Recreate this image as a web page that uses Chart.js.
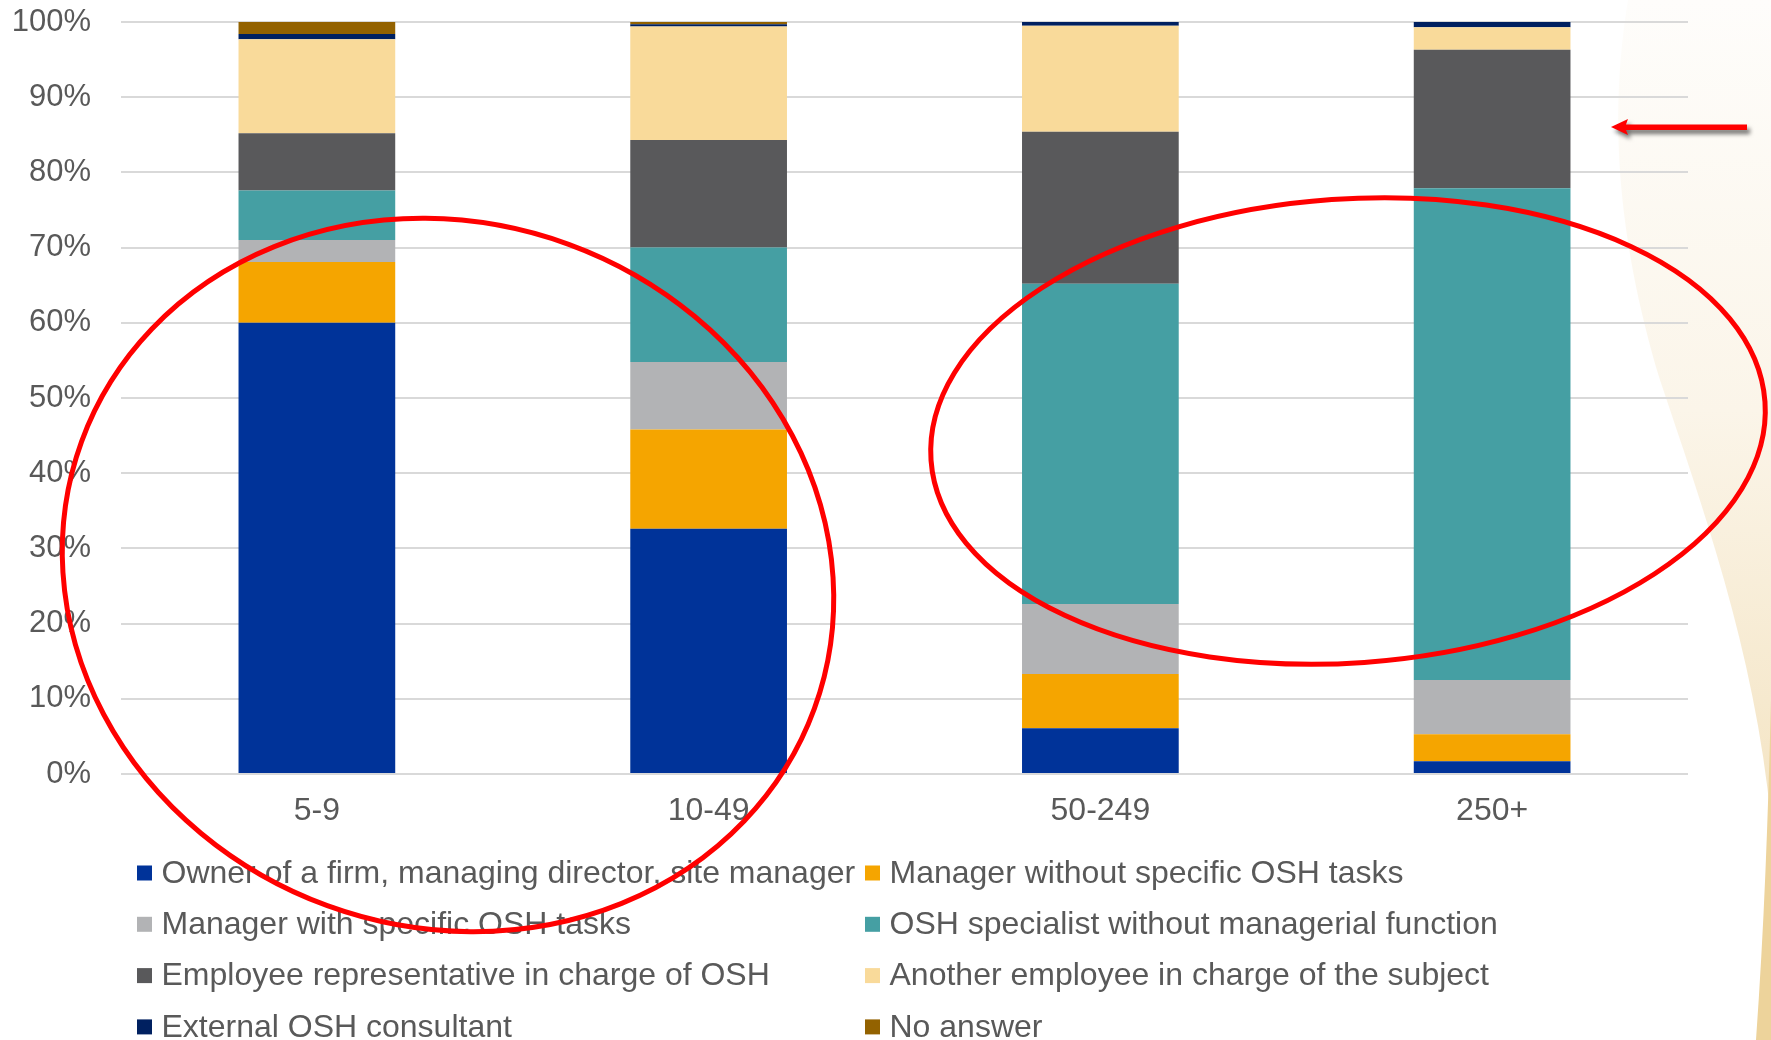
<!DOCTYPE html>
<html>
	<head>
		<title>OSH responsibility by company size</title>
		<meta http-equiv="Content-Type" content="text/html; charset=UTF-8" />
		<script src="https://cdn.jsdelivr.net/npm/chart.js@4.4.0/dist/chart.umd.min.js"></script>
		<style>
			body { margin: 0; background: #ffffff; }
			#wrap { width: 1771px; height: 1040px; position: relative; }
		</style>
	</head>
	<body>
		<div id="wrap"><canvas id="myChart"></canvas></div>

		<script>

			// company size classes
			var categories = ['5-9', '10-49', '50-249', '250+'];

			// share of answers, in %
			var owner = [60.0, 32.6, 6.1, 1.7];
			var managerNoOsh = [8.1, 13.2, 7.2, 3.6];
			var managerOsh = [2.9, 9.0, 9.3, 7.2];
			var oshSpecialist = [6.6, 15.2, 42.6, 65.4];
			var employeeRep = [7.6, 14.3, 20.2, 18.4];
			var anotherEmployee = [12.5, 15.1, 14.1, 3.0];
			var externalConsultant = [0.7, 0.3, 0.5, 0.7];
			var noAnswer = [1.6, 0.3, 0.0, 0.0];

			var seriesLabels = [
				'Owner of a firm, managing director, site manager',
				'Manager without specific OSH tasks',
				'Manager with specific OSH tasks',
				'OSH specialist without managerial function',
				'Employee representative in charge of OSH',
				'Another employee in charge of the subject',
				'External OSH consultant',
				'No answer'
			];
			var seriesColors = ['#003399', '#f5a500', '#b2b3b5', '#459fa3', '#59595b', '#f9da9a', '#002060', '#936200'];
			var seriesValues = [owner, managerNoOsh, managerOsh, oshSpecialist, employeeRep, anotherEmployee, externalConsultant, noAnswer];

			var fontFamily = '"Liberation Sans", Arial, sans-serif';
			var textColor = '#595959';

			// slide background: cream swoosh on the right
			var backgroundPlugin = {
				id: 'slideBackground',
				beforeDraw: function(chart) {
					var ctx = chart.ctx;
					ctx.save();
					ctx.fillStyle = '#ffffff';
					ctx.fillRect(0, 0, chart.width, chart.height);

					var grad = ctx.createLinearGradient(0, 0, 0, 820);
					grad.addColorStop(0, '#fefdfb');
					grad.addColorStop(0.5, '#fbf5e9');
					grad.addColorStop(1, '#f4e4c3');
					ctx.fillStyle = grad;
					ctx.beginPath();
					ctx.moveTo(1628, 0);
					ctx.bezierCurveTo(1610, 110, 1615, 230, 1660, 380);
					ctx.bezierCurveTo(1700, 500, 1755, 650, 1771, 820);
					ctx.lineTo(1771, 0);
					ctx.closePath();
					ctx.fill();

					// golden edge at the bottom right
					ctx.fillStyle = '#edd39b';
					ctx.beginPath();
					ctx.moveTo(1771, 700);
					ctx.bezierCurveTo(1768, 820, 1764, 930, 1756, 1040);
					ctx.lineTo(1771, 1040);
					ctx.closePath();
					ctx.fill();
					ctx.restore();
				}
			};

			// legend in two fixed columns under the chart
			var legendPlugin = {
				id: 'twoColumnLegend',
				afterDraw: function(chart) {
					var ctx = chart.ctx;
					var area = chart.chartArea;
					var colX = [137, 865];
					var rowY = area.bottom + 99;
					var rowStep = 51.3;
					ctx.save();
					ctx.font = '32px ' + fontFamily;
					ctx.textBaseline = 'middle';
					ctx.textAlign = 'left';
					chart.data.datasets.forEach(function(ds, i) {
						var x = colX[i % 2];
						var y = rowY + Math.floor(i / 2) * rowStep;
						ctx.fillStyle = ds.backgroundColor;
						ctx.fillRect(x, y - 7.5, 15, 15);
						ctx.fillStyle = textColor;
						ctx.fillText(ds.label, x + 24.5, y + 1);
					});
					ctx.restore();
				}
			};

			// red marks added on the slide
			var annotationPlugin = {
				id: 'redMarks',
				afterDraw: function(chart) {
					var ctx = chart.ctx;
					ctx.save();
					ctx.strokeStyle = '#ff0000';
					ctx.lineWidth = 5;
					ctx.beginPath();
					ctx.ellipse(448, 575, 390, 352, 0.35, 0, Math.PI * 2);
					ctx.stroke();
					ctx.beginPath();
					ctx.ellipse(1348, 431, 418, 232, -0.07, 0, Math.PI * 2);
					ctx.stroke();

					// arrow with a soft shadow
					ctx.shadowColor = 'rgba(0, 0, 0, 0.55)';
					ctx.shadowBlur = 4;
					ctx.shadowOffsetX = 3;
					ctx.shadowOffsetY = 4;
					ctx.fillStyle = '#ff0000';
					ctx.beginPath();
					ctx.moveTo(1611, 127);
					ctx.lineTo(1628, 119);
					ctx.lineTo(1626, 124.5);
					ctx.lineTo(1747, 124.5);
					ctx.lineTo(1747, 130);
					ctx.lineTo(1626, 130);
					ctx.lineTo(1628, 135);
					ctx.closePath();
					ctx.fill();
					ctx.restore();
				}
			};

			var datasets = [];
			for (var i = 0; i < seriesValues.length; i++) {
				datasets.push({
					label: seriesLabels[i],
					data: seriesValues[i],
					backgroundColor: seriesColors[i],
					borderWidth: 0,
					barPercentage: 0.4,
					categoryPercentage: 1.0
				});
			}

			var ctx = document.getElementById('myChart').getContext('2d');
			var chart = new Chart(ctx, {
				type: 'bar',
				data: {
					labels: categories,
					datasets: datasets
				},
				plugins: [backgroundPlugin, legendPlugin, annotationPlugin],
				options: {
					responsive: true,
					maintainAspectRatio: false,
					animation: false,
					layout: {
						padding: { left: 0, right: 83, top: 22, bottom: 206 }
					},
					plugins: {
						legend: { display: false },
						tooltip: { enabled: true }
					},
					scales: {
						x: {
							stacked: true,
							grid: { display: false, drawTicks: false },
							border: { display: false },
							ticks: {
								color: textColor,
								padding: 18,
								font: { family: fontFamily, size: 32 }
							},
							afterFit: function(scale) {
								scale.height = 60;
								scale.paddingLeft = 0;
								scale.paddingRight = 0;
							}
						},
						y: {
							stacked: true,
							min: 0,
							max: 100,
							grid: { color: '#d9d9d9', lineWidth: 2, drawTicks: false },
							border: { display: false },
							ticks: {
								stepSize: 10,
								color: textColor,
								padding: 30,
								font: { family: fontFamily, size: 31 },
								callback: function(v) { return v + '%'; }
							},
							afterFit: function(scale) {
								scale.width = 121;
								scale.paddingTop = 0;
								scale.paddingBottom = 0;
							}
						}
					}
				}
			});

		</script>
	</body>
</html>
